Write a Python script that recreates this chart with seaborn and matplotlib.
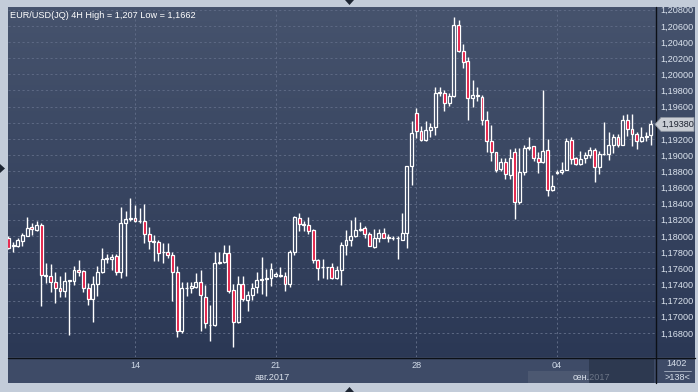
import numpy as np
import pandas as pd
import matplotlib
matplotlib.use("Agg")
import matplotlib.pyplot as plt
import matplotlib.transforms as mtransforms
from matplotlib.patches import Polygon, Rectangle
from matplotlib.lines import Line2D
import seaborn as sns

# ---------------- data (EUR/USD 4H candles) ----------------
opens = [1.1798, 1.1788, 1.1788, 1.1794, 1.1800, 1.1811, 1.1807, 1.1814, 1.1751, 1.1751,
         1.1743, 1.1736, 1.1732, 1.1744, 1.1744, 1.1758, 1.1757, 1.1735, 1.1722, 1.1740,
         1.1755, 1.1772, 1.1771, 1.1775, 1.1756, 1.1816, 1.1821, 1.1822, 1.1818, 1.1818,
         1.1803, 1.1794, 1.1792, 1.1780, 1.1780, 1.1776, 1.1756, 1.1682, 1.1736, 1.1735,
         1.1737, 1.1743, 1.1725, 1.1690, 1.1690, 1.1767, 1.1768, 1.1779, 1.1733, 1.1693,
         1.1740, 1.1721, 1.1727, 1.1737, 1.1746, 1.1747, 1.1748, 1.1751, 1.1752, 1.1751,
         1.1740, 1.1780, 1.1822, 1.1815, 1.1814, 1.1807, 1.1770, 1.1761, 1.1761, 1.1761,
         1.1748, 1.1758, 1.1789, 1.1795, 1.1800, 1.1807, 1.1810, 1.1802, 1.1786, 1.1798,
         1.1804, 1.1799, 1.1798, 1.1797, 1.1795, 1.1804, 1.1887, 1.1952, 1.1930, 1.1919,
         1.1931, 1.1935, 1.1977, 1.1977, 1.1964, 1.1973, 1.2061, 1.2029, 1.2016, 1.1971,
         1.1974, 1.1972, 1.1943, 1.1918, 1.1904, 1.1883, 1.1892, 1.1876, 1.1904, 1.1842,
         1.1879, 1.1909, 1.1911, 1.1896, 1.1891, 1.1906, 1.1857, 1.1878, 1.1879, 1.1882,
         1.1919, 1.1896, 1.1889, 1.1896, 1.1900, 1.1906, 1.1885, 1.1901, 1.1902, 1.1913,
         1.1922, 1.1913, 1.1943, 1.1932, 1.1926, 1.1917, 1.1923, 1.1925]
highs = [1.1800, 1.1792, 1.1798, 1.1804, 1.1823, 1.1816, 1.1818, 1.1816, 1.1767, 1.1765,
         1.1756, 1.1751, 1.1755, 1.1746, 1.1763, 1.1770, 1.1758, 1.1742, 1.1750, 1.1763,
         1.1785, 1.1778, 1.1778, 1.1778, 1.1836, 1.1831, 1.1847, 1.1838, 1.1834, 1.1839,
         1.1811, 1.1801, 1.1795, 1.1791, 1.1791, 1.1780, 1.1763, 1.1743, 1.1743, 1.1743,
         1.1754, 1.1758, 1.1739, 1.1715, 1.1780, 1.1780, 1.1789, 1.1789, 1.1741, 1.1751,
         1.1750, 1.1732, 1.1742, 1.1755, 1.1774, 1.1759, 1.1766, 1.1756, 1.1762, 1.1756,
         1.1783, 1.1825, 1.1829, 1.1818, 1.1824, 1.1808, 1.1772, 1.1771, 1.1762, 1.1766,
         1.1763, 1.1792, 1.1807, 1.1820, 1.1823, 1.1817, 1.1812, 1.1805, 1.1809, 1.1809,
         1.1810, 1.1803, 1.1800, 1.1800, 1.1828, 1.1887, 1.1942, 1.1958, 1.1936, 1.1942,
         1.1940, 1.1984, 1.1984, 1.1980, 1.1977, 1.2071, 1.2067, 1.2037, 1.2021, 1.1993,
         1.1984, 1.1974, 1.1955, 1.1937, 1.1904, 1.1896, 1.1896, 1.1908, 1.1909, 1.1909,
         1.1913, 1.1922, 1.1911, 1.1904, 1.1980, 1.1920, 1.1875, 1.1881, 1.1891, 1.1921,
         1.1922, 1.1898, 1.1905, 1.1904, 1.1910, 1.1909, 1.1905, 1.1941, 1.1929, 1.1926,
         1.1926, 1.1950, 1.1951, 1.1951, 1.1929, 1.1935, 1.1929, 1.1944]
lows = [1.1784, 1.1780, 1.1786, 1.1788, 1.1800, 1.1801, 1.1806, 1.1713, 1.1742, 1.1731,
        1.1717, 1.1724, 1.1724, 1.1678, 1.1739, 1.1751, 1.1731, 1.1715, 1.1694, 1.1726,
        1.1754, 1.1766, 1.1758, 1.1752, 1.1748, 1.1751, 1.1819, 1.1817, 1.1816, 1.1791,
        1.1784, 1.1769, 1.1769, 1.1766, 1.1773, 1.1719, 1.1675, 1.1680, 1.1726, 1.1730,
        1.1735, 1.1682, 1.1686, 1.1670, 1.1688, 1.1765, 1.1767, 1.1730, 1.1662, 1.1692,
        1.1719, 1.1707, 1.1721, 1.1729, 1.1728, 1.1726, 1.1738, 1.1749, 1.1749, 1.1732,
        1.1737, 1.1776, 1.1806, 1.1806, 1.1803, 1.1767, 1.1745, 1.1748, 1.1747, 1.1747,
        1.1747, 1.1739, 1.1777, 1.1788, 1.1799, 1.1806, 1.1798, 1.1787, 1.1785, 1.1792,
        1.1797, 1.1792, 1.1795, 1.1772, 1.1795, 1.1785, 1.1863, 1.1921, 1.1918, 1.1917,
        1.1922, 1.1925, 1.1973, 1.1955, 1.1961, 1.1972, 1.2028, 1.2008, 1.1944, 1.1960,
        1.1967, 1.1937, 1.1904, 1.1893, 1.1879, 1.1880, 1.1870, 1.1870, 1.1821, 1.1840,
        1.1876, 1.1906, 1.1893, 1.1878, 1.1890, 1.1849, 1.1856, 1.1877, 1.1877, 1.1881,
        1.1889, 1.1888, 1.1888, 1.1890, 1.1896, 1.1867, 1.1877, 1.1900, 1.1894, 1.1903,
        1.1910, 1.1913, 1.1924, 1.1911, 1.1908, 1.1916, 1.1918, 1.1913]
closes = [1.1785, 1.1789, 1.1795, 1.1801, 1.1810, 1.1808, 1.1814, 1.1752, 1.1752, 1.1743,
          1.1736, 1.1732, 1.1744, 1.1745, 1.1758, 1.1756, 1.1735, 1.1722, 1.1741, 1.1756,
          1.1772, 1.1773, 1.1774, 1.1756, 1.1816, 1.1821, 1.1822, 1.1819, 1.1819, 1.1803,
          1.1794, 1.1792, 1.1779, 1.1780, 1.1777, 1.1756, 1.1682, 1.1736, 1.1736, 1.1738,
          1.1743, 1.1727, 1.1692, 1.1690, 1.1767, 1.1768, 1.1779, 1.1732, 1.1693, 1.1740,
          1.1722, 1.1727, 1.1736, 1.1746, 1.1747, 1.1748, 1.1759, 1.1753, 1.1751, 1.1740,
          1.1780, 1.1823, 1.1815, 1.1813, 1.1806, 1.1770, 1.1760, 1.1761, 1.1761, 1.1748,
          1.1758, 1.1789, 1.1795, 1.1800, 1.1807, 1.1808, 1.1802, 1.1788, 1.1798, 1.1804,
          1.1798, 1.1797, 1.1798, 1.1798, 1.1804, 1.1887, 1.1927, 1.1930, 1.1919, 1.1931,
          1.1935, 1.1977, 1.1978, 1.1964, 1.1973, 1.2061, 1.2029, 1.2015, 1.1971, 1.1975,
          1.1973, 1.1944, 1.1918, 1.1904, 1.1882, 1.1892, 1.1877, 1.1896, 1.1842, 1.1879,
          1.1909, 1.1910, 1.1896, 1.1891, 1.1905, 1.1857, 1.1862, 1.1879, 1.1882, 1.1918,
          1.1895, 1.1889, 1.1895, 1.1900, 1.1906, 1.1885, 1.1901, 1.1902, 1.1913, 1.1922,
          1.1913, 1.1944, 1.1932, 1.1926, 1.1917, 1.1923, 1.1924, 1.1938]

date_tick_idx = [27, 57, 87, 117]
date_tick_labels = ["14", "21", "28", "04"]
month_labels = ["авг.2017", "сен.2017"]
month_label_pos = [56.2, 124.4]
price_ticks = [1.168, 1.170, 1.172, 1.174, 1.176, 1.178, 1.180, 1.182, 1.184, 1.186,
               1.188, 1.190, 1.192, 1.194, 1.196, 1.198, 1.200, 1.202, 1.204, 1.206, 1.208]
price_tick_labels = ["1,16800", "1,17000", "1,17200", "1,17400", "1,17600", "1,17800",
                     "1,18000", "1,18200", "1,18400", "1,18600", "1,18800", "1,19000",
                     "1,19200", "1,19400", "1,19600", "1,19800", "1,20000", "1,20200",
                     "1,20400", "1,20600", "1,20800"]
title = "EUR/USD(JQ) 4H High = 1,207 Low = 1,1662"
last_label = "1,19380"
bars_info = ["1402", ">138<"]

df = pd.DataFrame({"open": opens, "high": highs, "low": lows, "close": closes})
df["idx"] = np.arange(len(df))

# ---------------- style ----------------
sns.set_style("dark")
plt.rcParams["font.family"] = ["Liberation Sans", "DejaVu Sans"]

W, H = 698, 392
def fx(px):
    return px / W
def fy(py):
    return 1 - py / H

fig = plt.figure(figsize=(W / 100, H / 100), dpi=100, facecolor="#c3ccd9")

grad_cmap = matplotlib.colors.LinearSegmentedColormap.from_list("bg", ["#2b3855", "#46536d"])
grad = np.linspace(0, 1, 256).reshape(-1, 1)

# right price panel background
ax_r = fig.add_axes([fx(655), fy(357), fx(40), (357 - 7) / H], zorder=-1)
ax_r.imshow(grad, extent=[0, 1, 0, 1], origin="lower", cmap=grad_cmap, aspect="auto",
            transform=ax_r.transAxes)
ax_r.set_axis_off()

# bottom date band
ax_b = fig.add_axes([fx(8), fy(383), fx(687), 26 / H], zorder=-1)
ax_b.set_facecolor("#3e4b67")
ax_b.set_xticks([]); ax_b.set_yticks([])
for s in ax_b.spines.values():
    s.set_visible(False)

# main axes
ax = fig.add_axes([fx(8), fy(357), fx(647), 350 / H])
ax.imshow(grad, extent=[0, 1, 0, 1], origin="lower", cmap=grad_cmap, aspect="auto",
          transform=ax.transAxes, zorder=0)

o = df["open"].values; c = df["close"].values
hi = df["high"].values; lo = df["low"].values; x = df["idx"].values
up = c >= o
body_lo = np.minimum(o, c); body_hi = np.maximum(o, c)
ax.vlines(x, body_hi, hi, color="white", linewidth=1.0, zorder=3)
ax.vlines(x, lo, body_lo, color="white", linewidth=1.0, zorder=3)
face = ["none" if u else "#e2103a" for u in up]
ax.bar(x, body_hi - body_lo, bottom=body_lo, width=0.62, color=face,
       edgecolor="white", linewidth=0.9, zorder=4)

ax.set_xlim(-0.08, len(df) - 0.1)
ax.set_ylim(1.16502, 1.20833)
ax.set_xticks(date_tick_idx)
ax.set_xticklabels([])
ax.set_yticks(price_ticks)
ax.set_yticklabels(price_tick_labels)
ax.yaxis.tick_right()
ax.tick_params(axis="y", length=0, pad=4, labelsize=6.6, labelcolor="#dbe3ee")
ax.tick_params(axis="x", length=0)
ax.grid(True, color="#5d6984", linestyle=(0, (2.2, 2.6)), linewidth=0.7)
ax.set_axisbelow(False)
for s in ax.spines.values():
    s.set_visible(False)
for gl in ax.get_xgridlines() + ax.get_ygridlines():
    gl.set_zorder(1)

# date labels
tr = mtransforms.blended_transform_factory(ax.transData, fig.transFigure)
for xi, lab in zip(date_tick_idx, date_tick_labels):
    fig.text(xi, fy(365), lab, transform=tr, ha="center", va="center",
             color="#d0dae8", fontsize=6.6)
fig.add_artist(Rectangle((fx(528), fy(383)), fx(62), 12 / H, facecolor="#4c5871",
                         edgecolor="none", zorder=1))
for xi, lab in zip(month_label_pos, month_labels):
    fig.text(xi, fy(377), lab, transform=tr, ha="center", va="center",
             color="#dbe2ec", fontsize=6.6, zorder=2)
fig.add_artist(Rectangle((fx(589), fy(383)), fx(65), 24 / H, facecolor="#222d42",
                         edgecolor="none", alpha=0.6, zorder=3))

# bottom-right info
fig.text(fx(677), fy(364), bars_info[0], ha="center", va="center", color="#d6deea", fontsize=6.6)
fig.add_artist(Line2D([fx(664), fx(691)], [fy(370.5), fy(370.5)], color="#aab4c4", lw=0.6))
fig.text(fx(677), fy(377), bars_info[1], ha="center", va="center", color="#d6deea", fontsize=6.6)

# separators
fig.add_artist(Line2D([fx(655.5), fx(655.5)], [fy(7), fy(383)], color="#0c1017", lw=1.0, zorder=5))
fig.add_artist(Line2D([fx(8), fx(695)], [fy(357.5), fy(357.5)], color="#0c1017", lw=1.0, zorder=5))

# last price marker
last = df["close"].iloc[-1]
trp = mtransforms.blended_transform_factory(fig.transFigure, ax.transData)
hh = 0.00085
poly = Polygon([(fx(655), last), (fx(661), last + hh), (fx(694), last + hh),
                (fx(694), last - hh), (fx(661), last - hh)], closed=True,
               transform=trp, facecolor="#c9cdd4", edgecolor="#8f96a2", lw=0.6, zorder=6)
fig.add_artist(poly)
fig.text(fx(661), last, last_label, transform=trp, ha="left", va="center",
         color="#1c2230", fontsize=6.6, zorder=7)

# title
fig.text(fx(10), fy(15), title, ha="left", va="center", color="white", fontsize=6.6)

# frame markers
for pts in ([(345, 0), (354, 0), (349.5, 5)], [(345, 392), (354, 392), (349.5, 387)],
            [(0, 164), (0, 173), (5, 168.5)]):
    fig.add_artist(Polygon([(fx(a), fy(b)) for a, b in pts], closed=True,
                           transform=fig.transFigure, facecolor="#1d2532",
                           edgecolor="none", zorder=8))

fig.savefig("out.png", dpi=100, facecolor=fig.get_facecolor())
